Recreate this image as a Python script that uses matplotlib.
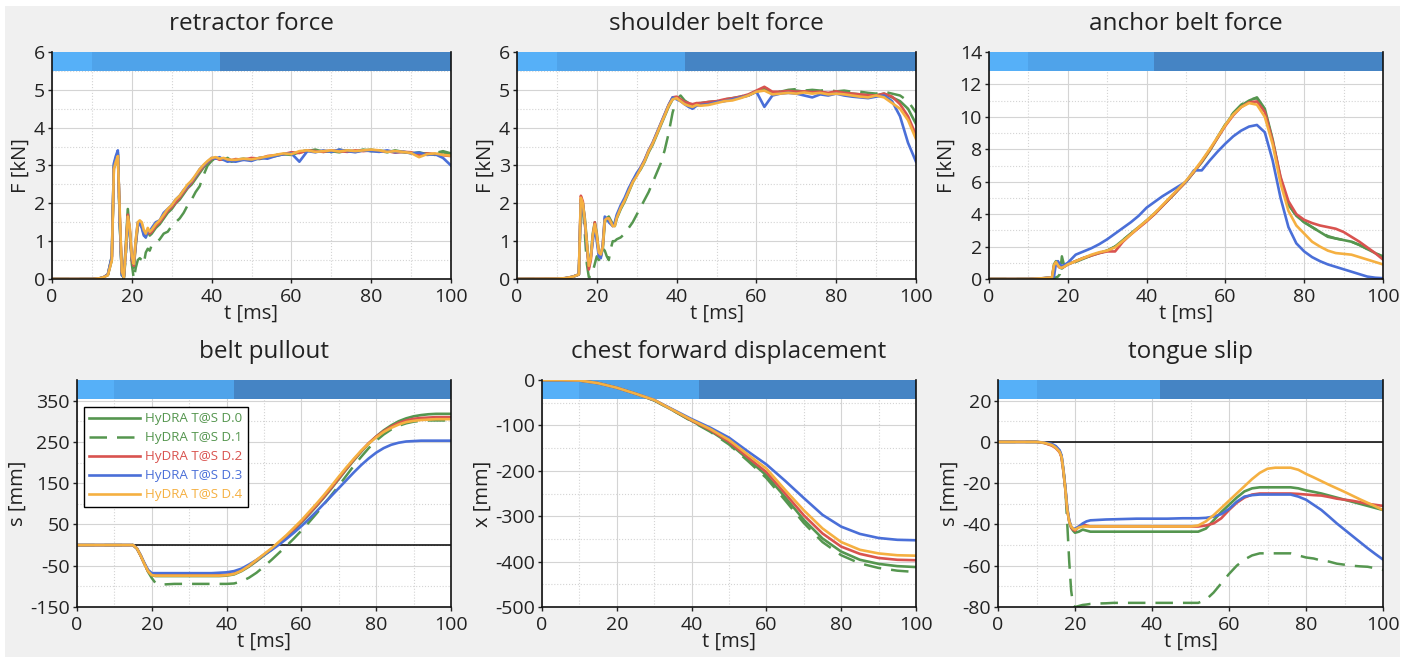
import numpy as np
import matplotlib
matplotlib.use("Agg")
import matplotlib.pyplot as plt
from matplotlib.patches import Rectangle
from matplotlib.ticker import MultipleLocator

plt.rcParams['font.family'] = ['Open Sans', 'DejaVu Sans']
plt.rcParams['axes.unicode_minus'] = False

# ---- data -------------------------------------------------------------
labels = ["HyDRA T@S D.0", "HyDRA T@S D.1", "HyDRA T@S D.2", "HyDRA T@S D.3", "HyDRA T@S D.4"]
colors = ["#55964f", "#55964f", "#d9534f", "#4a6fd8", "#f5b041"]
styles = ["-", "--", "-", "-", "-"]

phase_edges = [0, 10, 42, 100]
phase_colors = ["#56b0f8", "#4fa3ea", "#4584c4"]

# time grid for retractor / shoulder belt force
t_force = [0, 10, 12, 13, 14, 15, 15.5, 16, 16.5, 17, 17.5, 18, 18.5, 19, 19.5, 20, 20.5, 21, 21.5,
           22, 22.5, 23, 23.5, 24, 24.5] + list(range(25, 46)) + list(range(46, 101, 2))

retractor = [
    [0, 0, 0.02, 0.05, 0.12, 0.6, 3.0, 3.2, 3.35, 1.5, 0.1, 0.05, 0.9, 1.85, 1.2, 0.5, 0.3, 0.9,
     1.4, 1.5, 1.45, 1.2, 1.1, 1.3, 1.15,
     1.2, 1.35, 1.45, 1.6, 1.75, 1.85, 2.0, 2.1, 2.25, 2.4, 2.5, 2.65, 2.8, 2.95, 3.05, 3.15, 3.2, 3.18, 3.15, 3.2, 3.12,
     3.15, 3.18, 3.15, 3.2, 3.22, 3.25, 3.3, 3.28, 3.35, 3.38, 3.42, 3.36, 3.38, 3.35, 3.4, 3.37, 3.42, 3.38,
     3.4, 3.36, 3.38, 3.35, 3.33, 3.3, 3.32, 3.28, 3.35, 3.3],
    [0, 0, 0.02, 0.05, 0.1, 0.5, 2.9, 3.1, 3.3, 1.4, 0.1, 0.0, 0.6, 1.7, 1.3, 0.4, 0.0, 0.3,
     0.5, 0.55, 0.5, 0.4, 0.7, 0.8, 0.75,
     0.9, 0.95, 1.05, 1.2, 1.25, 1.4, 1.5, 1.6, 1.75, 1.95, 2.1, 2.3, 2.45, 2.75, 3.0, 3.12, 3.2, 3.15, 3.18, 3.15, 3.1,
     3.12, 3.15, 3.18, 3.17, 3.22, 3.28, 3.3, 3.32, 3.38, 3.4, 3.36, 3.4, 3.35, 3.42, 3.38, 3.36, 3.4, 3.42,
     3.38, 3.35, 3.4, 3.36, 3.32, 3.35, 3.3, 3.33, 3.38, 3.32],
    [0, 0, 0.02, 0.05, 0.12, 0.55, 2.95, 3.15, 3.3, 1.6, 0.15, 0.05, 0.8, 1.7, 1.3, 0.5, 0.35, 0.95,
     1.45, 1.5, 1.4, 1.2, 1.15, 1.25, 1.2,
     1.25, 1.4, 1.5, 1.65, 1.8, 1.9, 2.02, 2.15, 2.3, 2.42, 2.55, 2.7, 2.85, 2.98, 3.08, 3.18, 3.2, 3.15, 3.17, 3.15, 3.14,
     3.17, 3.15, 3.2, 3.18, 3.25, 3.27, 3.3, 3.35, 3.33, 3.4, 3.38, 3.36, 3.4, 3.38, 3.36, 3.4, 3.38, 3.4,
     3.37, 3.38, 3.34, 3.36, 3.35, 3.28, 3.32, 3.3, 3.27, 3.25],
    [0, 0, 0.02, 0.05, 0.12, 0.6, 3.05, 3.25, 3.4, 1.5, 0.1, 0.05, 0.7, 1.6, 1.2, 0.55, 0.4, 1.0,
     1.5, 1.45, 1.35, 1.15, 1.1, 1.3, 1.25,
     1.35, 1.5, 1.55, 1.75, 1.85, 1.95, 2.1, 2.2, 2.35, 2.45, 2.6, 2.72, 2.9, 3.0, 3.1, 3.2, 3.18, 3.22, 3.15, 3.1, 3.12,
     3.1, 3.15, 3.12, 3.2, 3.18, 3.25, 3.3, 3.32, 3.1, 3.38, 3.35, 3.4, 3.36, 3.42, 3.38, 3.35, 3.4, 3.38,
     3.36, 3.4, 3.35, 3.37, 3.32, 3.34, 3.28, 3.3, 3.2, 3.0],
    [0, 0, 0.02, 0.05, 0.1, 0.5, 2.9, 3.1, 3.25, 1.7, 0.2, 0.05, 0.75, 1.65, 1.35, 0.6, 0.4, 1.05,
     1.5, 1.55, 1.5, 1.3, 1.2, 1.35, 1.25,
     1.3, 1.45, 1.55, 1.7, 1.85, 1.95, 2.1, 2.2, 2.35, 2.5, 2.6, 2.75, 2.9, 3.02, 3.12, 3.2, 3.22, 3.18, 3.2, 3.16, 3.15,
     3.15, 3.18, 3.16, 3.2, 3.24, 3.28, 3.32, 3.3, 3.38, 3.4, 3.36, 3.38, 3.4, 3.37, 3.4, 3.38, 3.4, 3.42,
     3.4, 3.36, 3.38, 3.36, 3.33, 3.22, 3.3, 3.32, 3.28, 3.26],
]

shoulder = [
    [0, 0.01, 0.02, 0.04, 0.06, 0.1, 0.12, 2.1, 2.0, 1.6, 1.0, 0.3, 0.6, 1.2, 1.5, 1.2, 0.7, 0.6,
     0.8, 1.5, 1.6, 1.65, 1.55, 1.45, 1.4,
     1.6, 1.85, 2.05, 2.3, 2.55, 2.75, 2.9, 3.1, 3.35, 3.55, 3.8, 4.05, 4.3, 4.55, 4.75, 4.8, 4.72, 4.65, 4.62, 4.6, 4.62,
     4.6, 4.65, 4.68, 4.72, 4.75, 4.8, 4.85, 4.95, 5.02, 4.9, 4.92, 4.95, 4.98, 4.95, 4.93, 4.95, 4.9, 4.95,
     4.92, 4.9, 4.88, 4.85, 4.85, 4.9, 4.8, 4.7, 4.5, 4.1],
    [0, 0.01, 0.02, 0.04, 0.06, 0.1, 0.12, 2.0, 1.9, 1.2, 0.4, 0.05, 0.05, 0.2, 0.4, 0.6, 0.5, 0.7,
     0.8, 0.75, 0.6, 0.5, 0.8, 1.0, 1.0,
     1.05, 1.1, 1.2, 1.35, 1.5, 1.7, 1.9, 2.1, 2.3, 2.55, 2.8, 3.05, 3.4, 3.85, 4.4, 4.75, 4.85, 4.72, 4.65, 4.62, 4.65,
     4.65, 4.68, 4.7, 4.75, 4.78, 4.82, 4.88, 4.95, 5.05, 4.98, 4.95, 5.0, 5.02, 4.98, 5.0, 4.98, 5.0, 4.96,
     4.98, 4.95, 4.95, 4.92, 4.9, 4.95, 4.9, 4.85, 4.7, 4.4],
    [0, 0.01, 0.02, 0.04, 0.06, 0.1, 0.12, 2.2, 2.05, 1.5, 0.9, 0.25, 0.5, 1.1, 1.5, 1.1, 0.7, 0.6,
     0.9, 1.6, 1.6, 1.6, 1.5, 1.4, 1.45,
     1.65, 1.9, 2.1, 2.35, 2.6, 2.75, 2.95, 3.15, 3.4, 3.6, 3.85, 4.1, 4.35, 4.6, 4.8, 4.82, 4.75, 4.68, 4.65, 4.62, 4.65,
     4.65, 4.68, 4.7, 4.75, 4.78, 4.82, 4.88, 4.98, 5.08, 4.95, 4.95, 4.97, 4.95, 4.96, 4.94, 4.95, 4.92, 4.96,
     4.92, 4.9, 4.88, 4.86, 4.85, 4.9, 4.82, 4.62, 4.3, 3.8],
    [0, 0.01, 0.02, 0.04, 0.06, 0.1, 0.12, 2.0, 1.95, 1.5, 0.9, 0.4, 0.6, 1.0, 1.4, 1.0, 0.6, 0.55,
     0.9, 1.65, 1.6, 1.5, 1.45, 1.4, 1.5,
     1.7, 1.95, 2.15, 2.4, 2.6, 2.8, 2.95, 3.15, 3.4, 3.6, 3.85, 4.1, 4.35, 4.6, 4.8, 4.75, 4.7, 4.62, 4.55, 4.5, 4.58,
     4.6, 4.62, 4.68, 4.7, 4.75, 4.8, 4.85, 4.95, 4.55, 4.85, 4.9, 4.92, 4.9, 4.85, 4.8, 4.88, 4.85, 4.9,
     4.85, 4.82, 4.8, 4.78, 4.82, 4.85, 4.7, 4.3, 3.6, 3.1],
    [0, 0.01, 0.02, 0.04, 0.06, 0.1, 0.12, 2.15, 2.0, 1.55, 0.95, 0.35, 0.55, 1.15, 1.45, 1.15, 0.7, 0.65,
     0.85, 1.55, 1.6, 1.6, 1.5, 1.4, 1.4,
     1.62, 1.88, 2.08, 2.32, 2.56, 2.72, 2.92, 3.12, 3.38, 3.58, 3.82, 4.08, 4.32, 4.58, 4.75, 4.78, 4.7, 4.62, 4.58, 4.55, 4.6,
     4.58, 4.6, 4.65, 4.7, 4.72, 4.78, 4.85, 4.95, 4.98, 4.88, 4.9, 4.92, 4.9, 4.93, 4.9, 4.92, 4.88, 4.9,
     4.88, 4.85, 4.82, 4.8, 4.85, 4.8, 4.65, 4.5, 4.2, 3.7],
]

# anchor belt force
t_anchor = [0, 10, 14, 16, 16.5, 17, 17.5, 18, 18.5, 19] + list(range(20, 101, 2))
anchor = [
    [0, 0, 0.05, 0.1, 0.9, 1.1, 0.85, 0.7, 0.65, 0.75,
     0.9, 1.1, 1.3, 1.45, 1.6, 1.75, 2.0, 2.4, 2.8, 3.2, 3.6, 4.0, 4.5, 5.0, 5.5, 6.0, 6.6, 7.2, 7.9, 8.7,
     9.5, 10.2, 10.7, 11.0, 11.2, 10.5, 8.6, 6.2, 4.6, 3.9, 3.5, 3.2, 2.9, 2.6, 2.5, 2.4, 2.3, 2.1, 1.85, 1.6, 1.35],
    [0, 0, 0.05, 0.05, 0.05, 0.1, 0.15, 0.3, 1.4, 0.9,
     0.85, 1.05, 1.25, 1.45, 1.6, 1.75, 2.0, 2.4, 2.8, 3.2, 3.6, 4.05, 4.5, 5.0, 5.5, 6.0, 6.6, 7.25, 7.95, 8.75,
     9.55, 10.25, 10.75, 11.05, 11.15, 10.4, 8.5, 6.1, 4.6, 3.9, 3.5, 3.2, 2.9, 2.65, 2.5, 2.4, 2.3, 2.1, 1.85, 1.6, 1.4],
    [0, 0, 0.05, 0.1, 0.8, 1.0, 0.8, 0.7, 0.7, 0.75,
     0.9, 1.1, 1.3, 1.45, 1.6, 1.7, 1.7, 2.3, 2.75, 3.15, 3.55, 4.0, 4.5, 5.0, 5.5, 6.0, 6.6, 7.25, 7.95, 8.7,
     9.45, 10.1, 10.6, 10.9, 10.95, 10.3, 8.5, 6.3, 4.8, 4.0, 3.65, 3.45, 3.3, 3.2, 3.1, 2.9, 2.6, 2.3, 1.95, 1.6, 1.2],
    [0, 0, 0.05, 0.1, 0.15, 1.0, 1.1, 0.9, 0.8, 0.85,
     1.0, 1.5, 1.7, 1.9, 2.15, 2.45, 2.8, 3.15, 3.5, 3.9, 4.4, 4.75, 5.1, 5.4, 5.7, 6.0, 6.7, 6.7, 7.3, 7.85,
     8.35, 8.8, 9.15, 9.4, 9.5, 9.05, 7.3, 5.0, 3.2, 2.2, 1.7, 1.35, 1.1, 0.9, 0.75, 0.6, 0.45, 0.3, 0.15, 0.08, 0.05],
    [0, 0, 0.05, 0.1, 0.85, 1.05, 0.85, 0.7, 0.7, 0.75,
     0.9, 1.1, 1.3, 1.5, 1.65, 1.75, 1.95, 2.35, 2.75, 3.2, 3.6, 4.05, 4.55, 5.05, 5.55, 6.05, 6.65, 7.3, 8.0, 8.75,
     9.5, 10.15, 10.6, 10.85, 10.75, 10.0, 8.3, 5.9, 4.2, 3.3, 2.8, 2.3, 2.0, 1.75, 1.6, 1.55, 1.5, 1.35, 1.2, 1.05, 0.9],
]

# belt pullout
t_pull = [0, 10, 14, 15, 16, 17, 18, 19, 20, 21, 22] + list(range(24, 101, 2))
pullout = [
    [0, 0, 0, 0, -8, -25, -45, -63, -73, -75, -75,
     -75, -75, -75, -75, -75, -75, -75, -75, -74, -71, -63, -52, -39, -25, -11, 4, 20, 37, 55, 74,
     94, 115, 137, 160, 183, 205, 226, 246, 263, 278, 290, 300, 307, 312, 315, 317, 318, 318, 318],
    [0, 0, 0, 0, -8, -25, -45, -65, -80, -92, -96,
     -95, -94, -94, -94, -94, -94, -94, -94, -94, -93, -88, -79, -67, -52, -36, -19, -2, 16, 35, 55,
     76, 98, 121, 144, 168, 192, 214, 235, 253, 268, 280, 289, 295, 299, 301, 302, 302, 302, 302],
    [0, 0, 0, 0, -8, -25, -45, -63, -72, -73, -73,
     -73, -73, -73, -73, -73, -73, -73, -73, -72, -69, -61, -50, -37, -23, -9, 6, 22, 39, 57, 76,
     96, 117, 139, 162, 185, 207, 228, 247, 263, 276, 287, 296, 302, 306, 308, 309, 310, 310, 310],
    [0, 0, 0, 0, -8, -24, -43, -60, -68, -68, -68,
     -68, -68, -68, -68, -68, -68, -68, -67, -66, -63, -57, -47, -36, -24, -12, 1, 15, 30, 46, 63,
     81, 100, 119, 138, 157, 176, 194, 210, 224, 235, 243, 248, 251, 252, 253, 253, 253, 253, 253],
    [0, 0, 0, 0, -8, -25, -45, -63, -73, -74, -74,
     -74, -74, -74, -74, -74, -74, -74, -74, -73, -70, -62, -50, -36, -22, -8, 8, 24, 42, 60, 80,
     100, 121, 143, 166, 188, 209, 229, 246, 261, 274, 284, 292, 298, 301, 303, 304, 305, 305, 305],
]

# chest forward displacement
t_chest = list(range(0, 101, 5))
chest = [
    [0, 0, -1, -7, -17, -30, -45, -67, -90, -112, -139, -174, -210, -258, -308, -349, -378, -396, -405, -410, -412],
    [0, 0, -1, -7, -17, -30, -45, -67, -91, -114, -142, -178, -216, -265, -315, -357, -386, -404, -414, -420, -423],
    [0, 0, -1, -7, -17, -30, -44, -66, -89, -110, -136, -170, -203, -250, -298, -338, -367, -383, -392, -396, -397],
    [0, 0, -1, -7, -17, -30, -44, -65, -86, -105, -127, -157, -186, -222, -260, -297, -323, -339, -348, -352, -353],
    [0, 0, -1, -7, -17, -30, -44, -66, -88, -108, -132, -164, -195, -242, -287, -327, -357, -374, -382, -386, -387],
]

# tongue slip
t_tongue = [0, 10, 12, 14, 15, 16, 16.5, 17, 17.5, 18, 18.5, 19, 19.5, 20, 21, 22, 23, 24] + list(range(26, 101, 2))
tongue = [
    [0, 0, -0.5, -1.5, -2.5, -4.5, -7, -14, -23, -33, -38.5, -41.5, -43, -44, -43.5, -42.5, -43, -43.5,
     -43.5, -43.5, -43.5, -43.5, -43.5, -43.5, -43.5, -43.5, -43.5, -43.5, -43.5, -43.5, -43.5, -43.5,
     -42, -38, -34, -30.5, -27, -24, -22.5, -22, -22, -22, -22, -22, -22.5, -23.5, -24.2, -25,
     -26, -27, -28, -29, -30, -31, -32, -33],
    [0, 0, -0.5, -1.5, -2.5, -4.5, -7, -14, -23, -40, -58, -72, -79, -80, -79.5, -79, -78.8, -78.5,
     -78.3, -78.2, -78, -78, -78, -78, -78, -78, -78, -78, -78, -78, -78, -78,
     -76.5, -73, -68.5, -64, -60, -57, -55, -54, -54, -54, -54, -54, -55, -56, -56.5, -57.5,
     -58, -59, -59.5, -60, -60.3, -60.5, -61.2, -62],
    [0, 0, -0.5, -1.8, -3, -5, -7.5, -14.5, -23, -33, -38.5, -41.5, -42.5, -43, -41, -40, -40.5, -41,
     -41, -41, -41, -41, -41, -41, -41, -41, -41, -41, -41, -41, -41, -41,
     -40.5, -39.5, -37, -33, -29.5, -27, -25.5, -25, -25, -25, -25, -25, -25.2, -25.5, -25.8, -26,
     -26.7, -27.5, -28, -28.5, -29.2, -30, -30.5, -31],
    [0, 0, -0.3, -1, -2, -4, -6.5, -13.5, -22, -32, -38, -41, -42, -42, -41, -39.5, -38.5, -38,
     -37.8, -37.6, -37.5, -37.4, -37.3, -37.2, -37.2, -37.2, -37.2, -37.2, -37.1, -37, -37, -37,
     -36.8, -36.2, -35, -32.5, -29, -26.5, -25.8, -25.5, -25.5, -25.5, -25.5, -25.5, -26.5, -28, -30.5, -33,
     -36.2, -39.5, -42.5, -45.5, -48.5, -51.5, -54.3, -57],
    [0, 0, -0.4, -1.5, -2.8, -4.8, -7.2, -14, -23, -33, -38.5, -41, -42, -42.5, -41.5, -41, -41, -41,
     -41, -41, -41, -41, -41, -41, -41, -41, -41, -41, -41, -41, -41, -40.5,
     -38.5, -35.5, -32, -28.5, -25, -21.5, -18, -15, -13, -12.5, -12.5, -12.5, -13.5, -15.5, -17.2, -19,
     -20.8, -22.5, -24.2, -26, -27.8, -29.5, -31.2, -33],
]

# ---- figure -----------------------------------------------------------
W, H = 1412, 657
fig = plt.figure(figsize=(W / 100, H / 100), dpi=100, facecolor="white")
fig.patches.append(Rectangle((5 / W, 0), 1395 / W, 651 / H, transform=fig.transFigure,
                             facecolor="#f0f0f0", edgecolor="none", zorder=-10))


def make_ax(px_left, px_top, px_right, px_bottom):
    return fig.add_axes([px_left / W, 1 - px_bottom / H, (px_right - px_left) / W, (px_bottom - px_top) / H])


def style(ax, title, ylabel, ylim, ystep, zero_line=False):
    ax.set_facecolor("white")
    ax.set_xlim(0, 100)
    ax.set_ylim(*ylim)
    ax.xaxis.set_major_locator(MultipleLocator(20))
    ax.xaxis.set_minor_locator(MultipleLocator(10))
    ax.yaxis.set_major_locator(MultipleLocator(ystep))
    ax.yaxis.set_minor_locator(MultipleLocator(ystep / 2))
    ax.grid(which="major", color="#d4d4d4", lw=0.8, zorder=0)
    ax.grid(which="minor", color="#d4d4d4", lw=0.8, ls=":", zorder=0)
    ax.set_axisbelow(True)
    ax.tick_params(which="major", direction="out", length=3, width=1, labelsize=14, pad=2,
                   colors="#222222")
    ax.tick_params(axis="x", which="major", pad=3.5)
    ax.tick_params(which="minor", length=0)
    ax.spines["top"].set_visible(False)
    for s in ["left", "bottom", "right"]:
        ax.spines[s].set_color("#111111")
        ax.spines[s].set_linewidth(1.2)
    ax.set_title(title, fontsize=17.5, pad=16, color="#222222")
    ax.set_xlabel("t [ms]", fontsize=14.5, labelpad=-2, color="#222222")
    ax.set_ylabel(ylabel, fontsize=14.5, labelpad=2, color="#222222")
    # phase bar across the top
    for i in range(len(phase_colors)):
        ax.axvspan(phase_edges[i], phase_edges[i + 1], ymin=11 / 12, ymax=1,
                   color=phase_colors[i], lw=0, zorder=1.5)
    if zero_line:
        ax.axhline(0, color="black", lw=1.1, zorder=1.8)


def draw(ax, t, series):
    lines = []
    for y, c, ls in zip(series, colors, styles):
        if ls == "--":
            ln, = ax.plot(t, y, color=c, lw=1.8, ls=(0, (7, 4)), zorder=2)
        else:
            ln, = ax.plot(t, y, color=c, lw=1.9, ls=ls, zorder=2)
        lines.append(ln)
    return lines


ax1 = make_ax(52, 52, 451, 279)
style(ax1, "retractor force", "F [kN]", (0, 6), 1)
draw(ax1, t_force, retractor)

ax2 = make_ax(517, 52, 916, 279)
style(ax2, "shoulder belt force", "F [kN]", (0, 6), 1)
draw(ax2, t_force, shoulder)

ax3 = make_ax(989, 52, 1383, 279)
style(ax3, "anchor belt force", "F [kN]", (0, 14), 2)
draw(ax3, t_anchor, anchor)

ax4 = make_ax(77, 380, 451, 607)
style(ax4, "belt pullout", "s [mm]", (-150, 400), 100, zero_line=True)
ax4.set_yticks([-150, -50, 50, 150, 250, 350])
ax4.set_yticks([-100, 0, 100, 200, 300], minor=True)
pull_lines = draw(ax4, t_pull, pullout)
leg = ax4.legend(pull_lines, labels, loc="upper left", bbox_to_anchor=(0.019, 0.881), borderaxespad=0,
                 fontsize=9.6, handlelength=3.8, labelspacing=0.45, handletextpad=0.4,
                 fancybox=False, framealpha=1, edgecolor="black")
leg.get_frame().set_linewidth(1.0)
for txt, c in zip(leg.get_texts(), colors):
    txt.set_color(c)

ax5 = make_ax(542, 380, 916, 607)
style(ax5, "chest forward displacement", "x [mm]", (-500, 0), 100)
draw(ax5, t_chest, chest)

ax6 = make_ax(998, 380, 1383, 607)
style(ax6, "tongue slip", "s [mm]", (-80, 30), 20, zero_line=True)
ax6.set_yticks([-80, -60, -40, -20, 0, 20])
draw(ax6, t_tongue, tongue)

fig.savefig("out.png", dpi=100, facecolor=fig.get_facecolor())
